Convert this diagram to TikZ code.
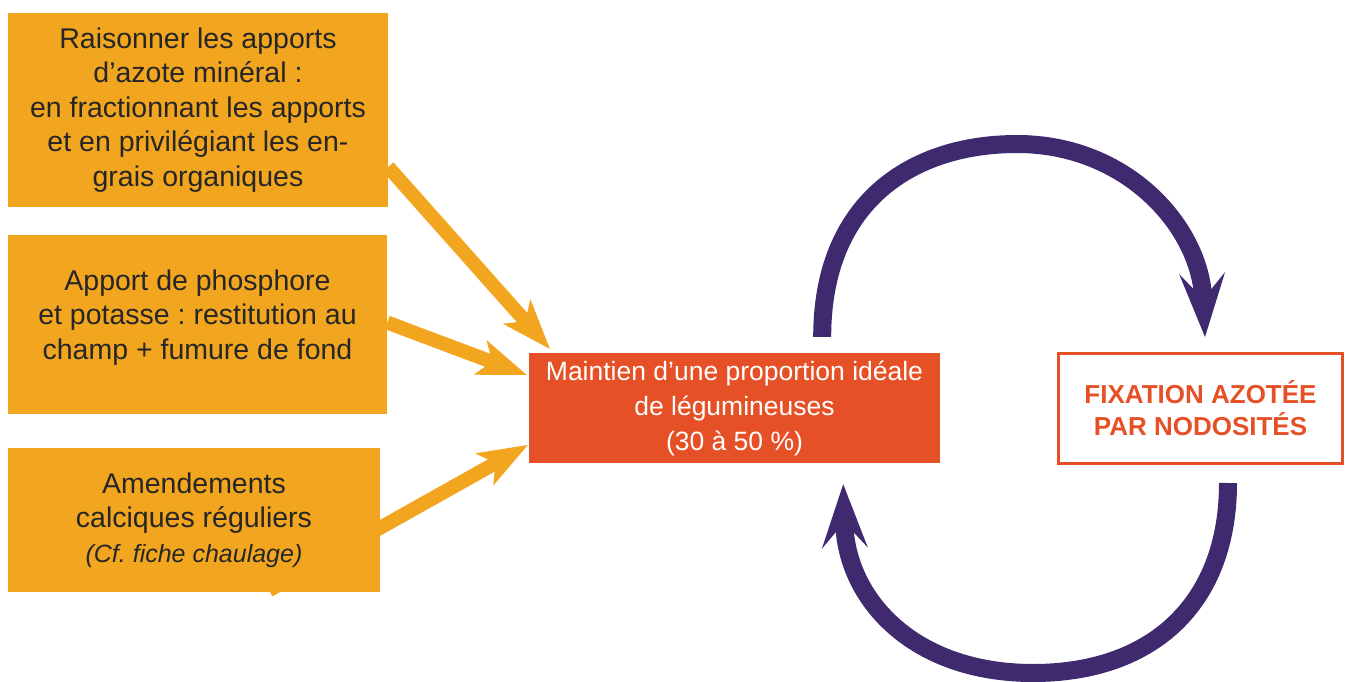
\documentclass[tikz,border=0pt]{standalone}
\usepackage{fontspec}
\setmainfont{Liberation Sans}
\usepackage{tikz}
\usetikzlibrary{arrows.meta}
\usetikzlibrary{backgrounds}
\frenchspacing
\definecolor{orng}{HTML}{F2A61F}
\definecolor{rouge}{HTML}{E65026}
\definecolor{pourpre}{HTML}{3F2A70}
\definecolor{encre}{HTML}{262626}
\tikzset{ob/.style={fill=orng, text=encre, inner sep=0pt, align=center, font=\fontsize{28.5}{34.5}\selectfont}}
\tikzset{rb/.style={fill=rouge, text=white, inner sep=0pt, align=center, minimum width=411pt, minimum height=110pt, font=\fontsize{26.5}{35}\selectfont}}
\tikzset{fb/.style={draw=rouge, line width=3pt, text=rouge, inner sep=0pt, align=center, minimum width=284pt, minimum height=110pt, font=\fontsize{26}{32}\selectfont\bfseries}}
\tikzset{oa/.style={draw=orng, line width=14pt, -{Stealth[length=50pt, width=37pt, inset=13pt, line width=0pt]}}}
\tikzset{pa/.style={draw=pourpre, line width=18pt, -{Stealth[length=64pt, width=46pt, inset=26pt, line width=0pt]}}}

\begin{document}
\begin{tikzpicture}[x=1pt, y=-1pt]
        \useasboundingbox (0,0) rectangle (1349,682);
        \node[ob, minimum width=380pt, minimum height=194pt] (box1) at (198,110)
          {Raisonner les apports\\d’azote minéral :\\en fractionnant les apports\\et en privilégiant les en-\\grais organiques};
        \node[ob, minimum width=379pt, minimum height=179pt] (box2) at (197.5,324.5)
          {Apport de phosphore\\et potasse : restitution au\\champ + fumure de fond\\[-14pt]\mbox{}};
        \node[ob, minimum width=372pt, minimum height=144pt] (box3) at (194,520)
          {Amendements\\calciques réguliers\\{\fontsize{25}{34}\selectfont\itshape (Cf. fiche chaulage)}};
        \node[rb] (red) at (734.5,408)
          {Maintien d’une proportion idéale\\de légumineuses\\(30 à 50 \%)};
        \node[fb] (fix) at (1200.5,408.5) {FIXATION AZOTÉE\\PAR NODOSITÉS};
        % apports vers la prairie
        \begin{scope}[on background layer]
          \draw[oa] ([shift={(0,57)}]box1.east) -- ([shift={(21,-4)}]red.north west);
          \draw[oa] ([shift={(0,-2)}]box2.east) -- ([shift={(-2,-33)}]red.west);
          \draw[oa] ([shift={(75,-2)}]box3.south) -- ([shift={(-1,37)}]red.west);
        \end{scope}
        % cycle de l'azote
        \draw[pa] ([shift={(-118,-16)}]red.north east) .. controls +(0,-135) and +(-105,0) .. (1017,144)
          .. controls +(110,0) and +(-5,-110) .. ([shift={(4.5,-15)}]fix.north);
        \draw[pa] ([shift={(27.5,18)}]fix.south) .. controls +(0,120) and +(120,0) .. (1033,673)
          .. controls +(-120,0) and +(3,115) .. ([shift={(-97,21)}]red.south east);
      \end{tikzpicture}
\end{document}
